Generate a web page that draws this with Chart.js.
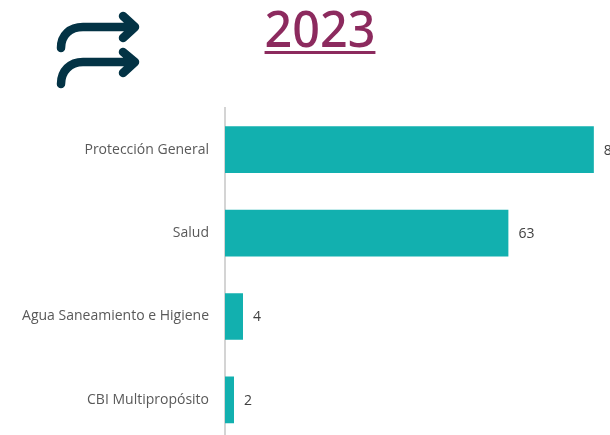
<!DOCTYPE html>
<html>
<head>
<meta charset="utf-8">
<script src="https://cdn.jsdelivr.net/npm/chart.js@4"></script>
<style>
    html, body { margin: 0; padding: 0; background: #fff; }
    #page { position: relative; width: 610px; height: 435px; overflow: hidden; }
    #sectorChart { position: absolute; left: 0; top: 0; }
    #title {
        position: absolute; left: 220px; width: 200px; top: -8px; text-align: center;
        font: 500 51px "Noto Sans", sans-serif; color: #8c2a5e; text-decoration: underline;
        text-decoration-thickness: 3px; text-underline-offset: 4px;
        transform: scaleX(0.95);
    }
    #arrows { position: absolute; left: 50px; top: 5px; }
</style>
</head>
<body>
<div id="page">
    <canvas id="sectorChart" width="700" height="466"></canvas>
    <div id="title">2023</div>
    <svg id="arrows" width="100" height="90" fill="none" stroke="#033345" stroke-width="8.5" stroke-linecap="round" stroke-linejoin="round">
        <path d="M11 43 C11 30 20 22 33 22 L85 22 M73 11 L85 22 L73 33"/>
        <path d="M11 79 C11 66 20 57 33 57 L85 57 M73 47 L85 57 L73 68"/>
    </svg>
</div>
<script>
document.addEventListener('DOMContentLoaded', () => {
    const categories = ['Protección General', 'Salud', 'Agua Saneamiento e Higiene', 'CBI Multipropósito'];
    const values = [82, 63, 4, 2];

    // --- Подписи значений справа от столбцов ---
    const barLabels = {
        id: 'barLabels',
        afterDatasetsDraw(chart) {
            const ctx = chart.ctx;
            ctx.save();
            ctx.font = '14px "Open Sans", sans-serif';
            ctx.fillStyle = '#404040';
            ctx.textBaseline = 'middle';
            chart.getDatasetMeta(0).data.forEach((bar, i) => {
                ctx.fillText(values[i], bar.x + 10, bar.y + 1);
            });
            ctx.restore();
        }
    };

    new Chart(document.getElementById('sectorChart'), {
        type: 'bar',
        data: {
            labels: categories,
            datasets: [{
                data: values,
                backgroundColor: '#12b0af',
                barPercentage: 0.56,
                categoryPercentage: 1
            }]
        },
        options: {
            indexAxis: 'y',
            responsive: false,
            animation: false,
            layout: { padding: { top: 108 } },
            plugins: {
                legend: { display: false },
                tooltip: { enabled: false }
            },
            scales: {
                x: { min: 0, max: 105.6, display: false },
                y: {
                    afterFit: (scale) => { scale.width = 225; },
                    grid: { drawOnChartArea: false, drawTicks: false },
                    border: { color: '#d4d4d4', width: 2 },
                    ticks: {
                        color: '#595959',
                        padding: 16,
                        font: { family: '"Open Sans", sans-serif', size: 14 }
                    }
                }
            }
        },
        plugins: [barLabels]
    });
});
</script>
</body>
</html>
